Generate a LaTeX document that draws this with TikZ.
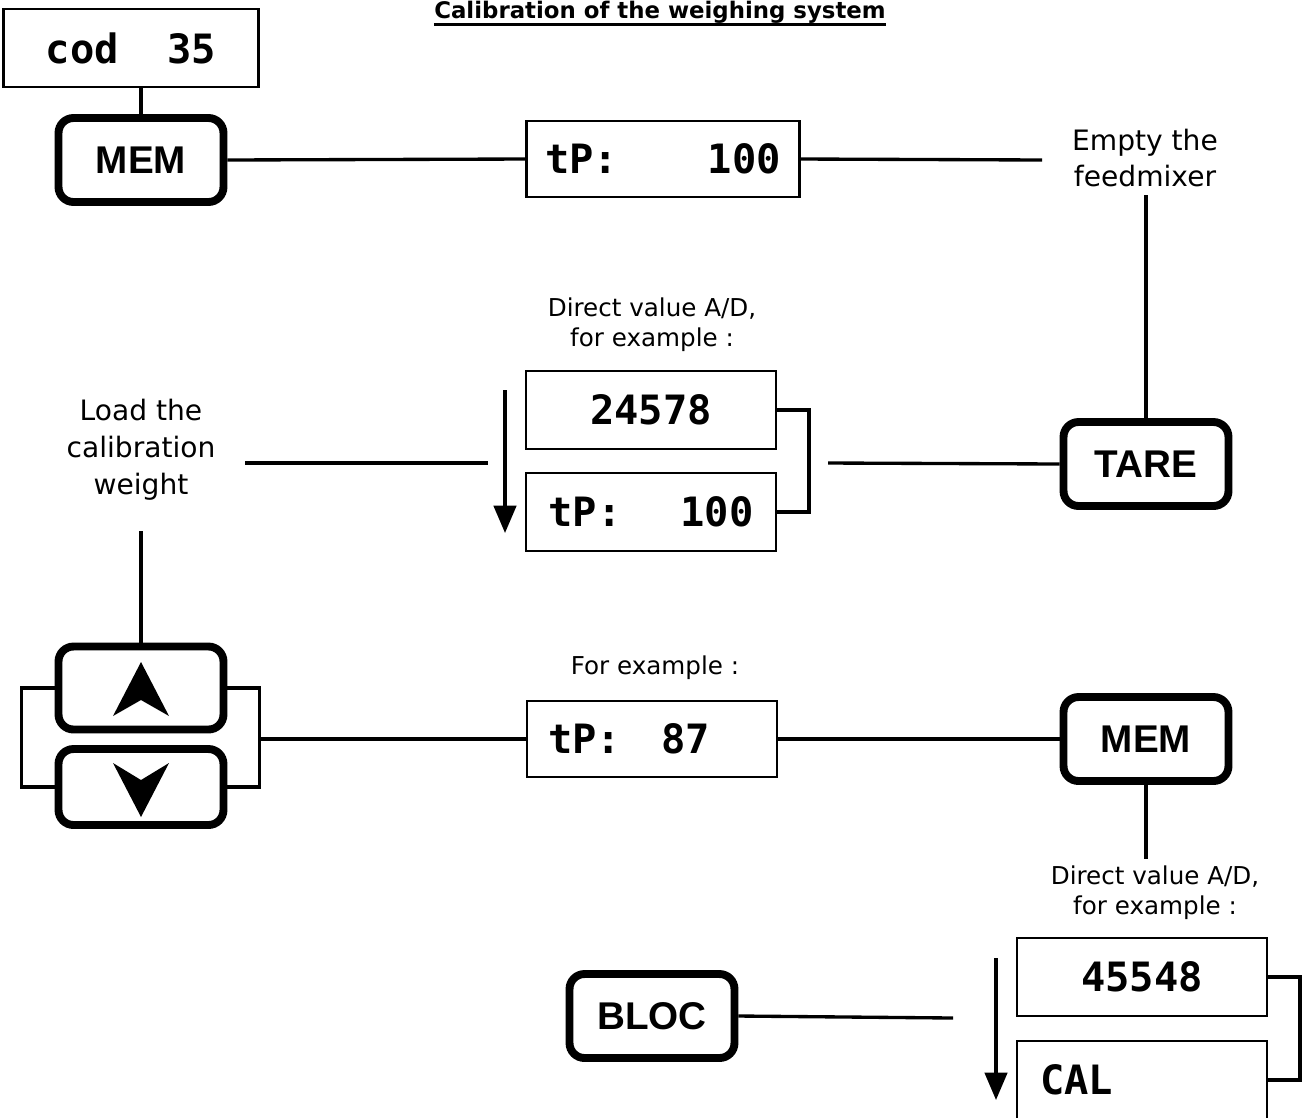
\documentclass[tikz,border=0pt]{standalone}
\usepackage{fontspec}
\setmainfont{DejaVu Sans}
\newfontfamily\keyfont{Liberation Sans}
\newfontfamily\lcdfont{DejaVu Sans Mono}
\usetikzlibrary{arrows.meta, positioning, calc}

\begin{document}
\begin{tikzpicture}[
        x=0.02cm, y=-0.02cm,
        lcd/.style={rectangle, draw=black, line width=1.3pt, fill=white, inner sep=0pt, minimum width=5cm, minimum height=1.56cm, font=\lcdfont\bfseries\fontsize{23}{23}\selectfont},
        key/.style={rectangle, rounded corners=0.3cm, draw=black, line width=4.5pt, fill=white, inner sep=0pt, minimum width=3.3cm, minimum height=1.68cm, font=\keyfont\bfseries\fontsize{22}{22}\selectfont},
        note/.style={align=center, inner sep=0pt, font=\fontsize{16}{21}\selectfont},
        smallnote/.style={align=center, inner sep=0pt, font=\fontsize{14}{17}\selectfont},
        link/.style={line width=1.9pt},
        flow/.style={line width=1.9pt, -{Triangle[length=0.55cm, width=0.45cm]}},
    ]
        \useasboundingbox (0,0) rectangle (1304,1117);

        % Title
        \node[anchor=base, inner sep=0pt, font=\bfseries\fontsize{13}{13}\selectfont] (title) at (660,18.5) {Calibration of the weighing system};
        \draw[line width=1.6pt] ([yshift=-3.5pt]title.base west) -- ([yshift=-3.5pt]title.base east);

        % Step 1: code and MEM
        \node[lcd, minimum width=5.1cm] (cod) at (131,48) {cod~~35};
        \node[key] (MEM1) at (141,160) {MEM};
        \node[lcd, minimum width=5.46cm, minimum height=1.52cm, text width=4.72cm] (tp1) at (663,159) {tP:\hfill 100};
        \node[note] (empty) at (1145,158) {Empty the\\feedmixer};
        \coordinate (empty-in) at (1042,160);

        \draw[link] (MEM1.north) -- (MEM1.north |- cod.south);
        \draw[link] (MEM1.east) -- (tp1.west);
        \draw[link] (tp1.east) -- (empty-in);

        % Step 2: TARE
        \node[key] (TARE) at (1146,464) {TARE};
        \node[smallnote] (direct1) at (652,325) {Direct value A/D,\\for example :};
        \node[lcd] (ad1) at (651,410) {24578};
        \node[lcd, text width=4.1cm] (tp2) at (651,512) {tP:\hfill 100};
        \node[note] (load) at (141,450) {Load the\\calibration\\weight};
        \coordinate (tare-in) at (828,463);
        \coordinate (load-out) at (245,463);
        \coordinate (ad-in) at (488,463);
        \coordinate (scan1-top) at (505,390);
        \coordinate (scan1-end) at (505,533);

        \draw[link, shorten >=0.14cm] (TARE.north) -- (TARE.north |- empty.south);
        \draw[link] (TARE.west) -- (tare-in);
        \draw[link] (ad1.east) -- ++(32,0) |- (tp2.east);
        \draw[flow] (scan1-top) -- (scan1-end);
        \draw[link] (load-out) -- (ad-in);

        % Step 3: up / down
        \node[key, minimum height=1.66cm] (up) at (141,688) {};
        \node[key, minimum height=1.52cm] (down) at (141,787) {};
        \fill (up.center) ++(0,-26) -- ++(-28,54) -- ++(28,-16) -- ++(28,16) -- cycle;
        \fill (down.center) ++(0,30) -- ++(-28,-54) -- ++(28,17) -- ++(28,-17) -- cycle;
        \node[smallnote] (example) at (655,668) {For example :};
        \node[lcd, minimum height=1.52cm, text width=4.16cm, align=left] (tp87) at (652,739) {tP:~~~87};
        \node[key] (MEM2) at (1146,739) {MEM};

        \draw[link, shorten >=0.6cm] (up.north) -- (up.north |- load.south);
        \draw[link] (up.west) -- ++(-33,0) |- (down.west);
        \draw[link] (up.east) -- ++(32,0) coordinate (ud-r) |- (down.east);
        \draw[link] (ud-r |- tp87.west) -- (tp87.west);
        \draw[link] (tp87.east) -- (MEM2.west);

        % Step 4: BLOC
        \node[smallnote] (direct2) at (1155,893) {Direct value A/D,\\for example :};
        \node[lcd] (ad2) at (1142,977) {45548};
        \node[lcd, text width=4.08cm, align=left] (cal) at (1142,1080) {CAL};
        \node[key] (BLOC) at (652,1016) {BLOC};
        \coordinate (bloc-out) at (953,1018);
        \coordinate (scan2-top) at (996,958);
        \coordinate (scan2-end) at (996,1100);

        \draw[link, shorten >=0.14cm] (MEM2.south) -- (MEM2.south |- direct2.north);
        \draw[link] (ad2.east) -- ++(32,0) |- (cal.east);
        \draw[flow] (scan2-top) -- (scan2-end);
        \draw[link] (BLOC.east) -- (bloc-out);
    \end{tikzpicture}
\end{document}
